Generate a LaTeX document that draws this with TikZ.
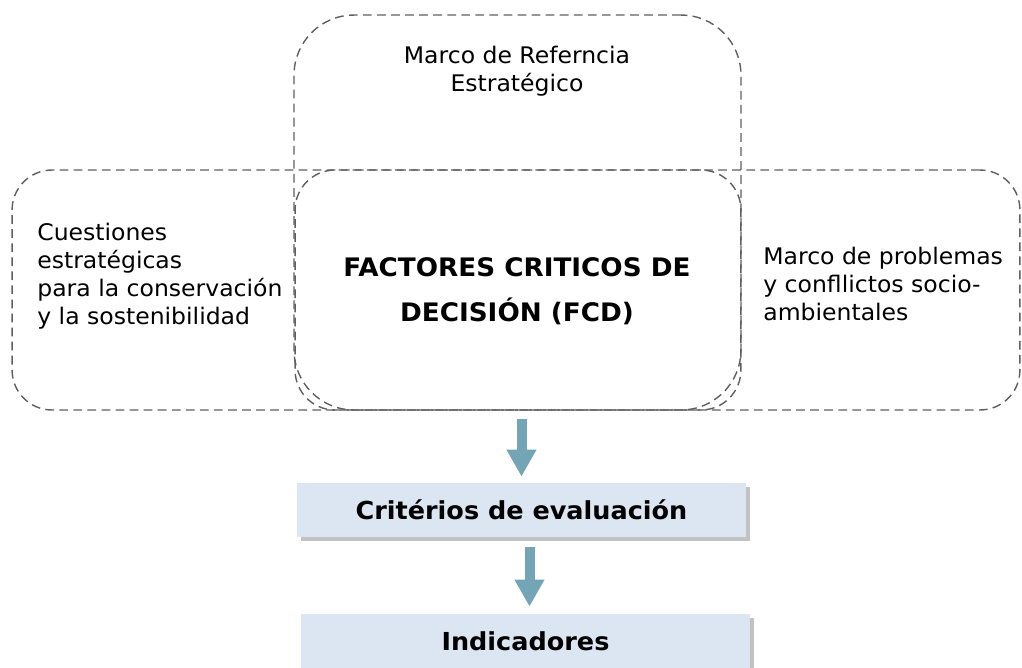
\documentclass[tikz,border=0pt]{standalone}
\usepackage{fontspec}
\setmainfont{DejaVu Sans}[FakeStretch=1.03]
\usepackage{tikz}
\usetikzlibrary{
	arrows.meta,shadows
}

\definecolor{boxfill}{RGB}{220,230,242}
\definecolor{flowblue}{RGB}{116,165,183}
\definecolor{framegray}{RGB}{95,95,95}

\begin{document}
\begin{tikzpicture}[x=0.02cm,y=-0.02cm,
		frame/.style={draw=framegray,line width=0.8pt,dash pattern=on 5pt off 3pt,inner sep=0pt},
		plain/.style={font=\fontsize{13}{16}\selectfont,inner sep=0pt},
		stage/.style={fill=boxfill,font=\bfseries\fontsize{14.1}{16}\selectfont,minimum width=8.98cm,minimum height=1.08cm,inner sep=0pt,
			drop shadow={shadow xshift=2.5pt,shadow yshift=-2.5pt,opacity=0.4,fill=black!60}},
		flow/.style={flowblue,line width=0.2cm,-{Triangle[width=0.56cm,length=0.54cm]}}]
		\useasboundingbox (0,0) rectangle (1022,667);
		%
		\node[frame,rounded corners=1.2cm,minimum width=8.94cm,minimum height=7.9cm] (topbox) at (517.5,212.5) {};
		\node[frame,rounded corners=0.8cm,minimum width=14.58cm,minimum height=4.8cm] (leftbox) at (376.5,290) {};
		\node[frame,rounded corners=0.8cm,minimum width=14.5cm,minimum height=4.8cm] (rightbox) at (657.5,290) {};
		%
		\node[plain,align=center] (ref) at (517,71) {Marco de Referncia\\Estratégico};
		\node[plain,align=left,anchor=west] (cuest) at (37,276) {Cuestiones\\estratégicas\\para la conservación\\y la sostenibilidad};
		\node[plain,align=left,anchor=west] (probl) at (763,284) {Marco de problemas\\y confllictos socio-\\ambientales};
		\node[align=center,inner sep=0pt,font=\bfseries\fontsize{14.5}{25.5}\selectfont] (fcd) at (517,291) {FACTORES CRITICOS DE\\DECISIÓN (FCD)};
		%
		\node[stage] (crit) at (521.5,510) {Critérios de evaluación};
		\node[stage] (ind) at (525.5,641) {Indicadores};
		%
		\draw[flow,shorten <=0.16cm,shorten >=0.12cm] (crit.north |- topbox.south) -- (crit.north);
		\draw[flow,shorten <=0.2cm,shorten >=0.14cm] ([xshift=0.08cm]ind.north |- crit.south) -- ([xshift=0.08cm]ind.north);
	\end{tikzpicture}
\end{document}
